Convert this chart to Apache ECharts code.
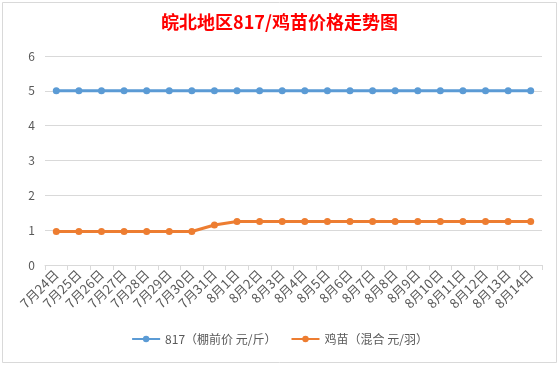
<!DOCTYPE html>
<html><head><meta charset="utf-8">
<script src="https://cdn.jsdelivr.net/npm/echarts@6/dist/echarts.min.js"></script>
<style>html,body{margin:0;padding:0;background:#fff}#c{width:559px;height:366px}</style>
</head><body><div id="c"></div>
<script>
const categories = ['7月24日','7月25日','7月26日','7月27日','7月28日','7月29日','7月30日','7月31日','8月1日','8月2日','8月3日','8月4日','8月5日','8月6日','8月7日','8月8日','8月9日','8月10日','8月11日','8月12日','8月13日','8月14日'];
const price817 = [5,5,5,5,5,5,5,5,5,5,5,5,5,5,5,5,5,5,5,5,5,5];
const chickPrice = [0.96,0.96,0.96,0.96,0.96,0.96,0.96,1.15,1.25,1.25,1.25,1.25,1.25,1.25,1.25,1.25,1.25,1.25,1.25,1.25,1.25,1.25];
const seriesNames = ['817（棚前价 元/斤）','鸡苗（混合 元/羽）'];
const yTicks = {min:0, max:6, interval:1};

const chart = echarts.init(document.getElementById('c'));
const font = '"Noto Sans CJK SC", "Noto Sans", sans-serif';
chart.setOption({
  animation:false,
  backgroundColor:'#fff',
  graphic:[{type:'rect',shape:{x:2.5,y:2.5,width:554,height:360},style:{fill:'none',stroke:'#d9d9d9',lineWidth:1},silent:true}],
  title:{text:'皖北地区817/鸡苗价格走势图',left:'center',top:8,textStyle:{color:'#ff0000',fontSize:18,fontWeight:'bold',fontFamily:font}},
  legend:{bottom:16,left:'center',itemWidth:28,itemHeight:8,itemGap:14,textStyle:{color:'#595959',fontSize:12,fontFamily:font},data:seriesNames},
  grid:{left:45,right:17,top:56,bottom:101,containLabel:false},
  xAxis:{type:'category',data:categories,boundaryGap:true,
    axisLine:{lineStyle:{color:'#d9d9d9'}},
    axisTick:{show:true,alignWithLabel:false,lineStyle:{color:'#d9d9d9'},length:5},
    axisLabel:{rotate:45,color:'#595959',fontSize:13,fontFamily:font,interval:0,margin:7}},
  yAxis:{type:'value',min:yTicks.min,max:yTicks.max,interval:yTicks.interval,
    axisLine:{show:false},axisTick:{show:false},
    axisLabel:{color:'#595959',fontSize:12,fontFamily:font,margin:10},
    splitLine:{lineStyle:{color:'#d9d9d9'}}},
  series:[
    {name:seriesNames[0],type:'line',data:price817,color:'#5B9BD5',symbol:'circle',symbolSize:7,lineStyle:{width:3}},
    {name:seriesNames[1],type:'line',data:chickPrice,color:'#ED7D31',symbol:'circle',symbolSize:7,lineStyle:{width:3}}
  ]
});
</script></body></html>
